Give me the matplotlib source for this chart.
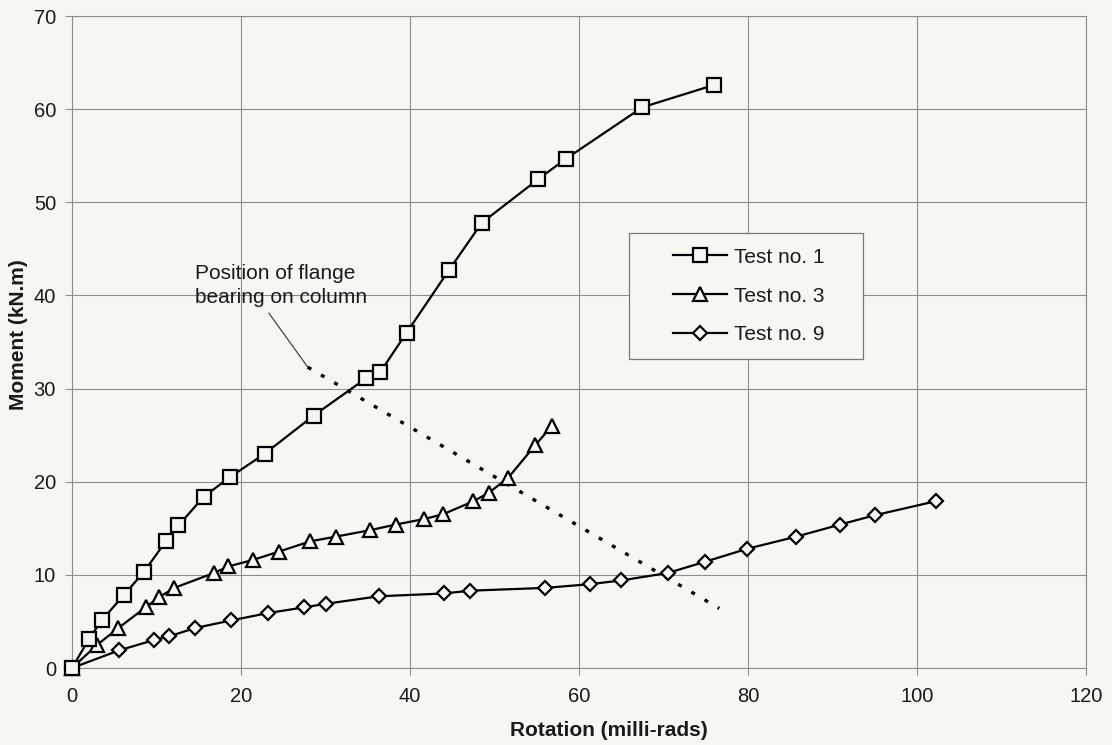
import matplotlib
matplotlib.use("Agg")
import matplotlib.pyplot as plt
from matplotlib import font_manager
from matplotlib.patches import Rectangle
from matplotlib.lines import Line2D

# ---------------- data ----------------
test1_x = [0, 2.0, 3.5, 6.1, 8.5, 11.1, 12.6, 15.6, 18.7, 22.8, 28.6, 34.8, 36.5,
           39.6, 44.6, 48.5, 55.2, 58.5, 67.5, 76.0]
test1_y = [0, 3.1, 5.1, 7.8, 10.3, 13.6, 15.3, 18.4, 20.5, 23.0, 27.1, 31.1, 31.8,
           36.0, 42.7, 47.8, 52.5, 54.7, 60.2, 62.6]

test3_x = [0, 3.0, 5.5, 8.7, 10.3, 12.1, 16.8, 18.5, 21.4, 24.5, 28.2, 31.2, 35.3,
           38.3, 41.7, 43.9, 47.5, 49.3, 51.6, 54.8, 56.8]
test3_y = [0, 2.5, 4.3, 6.5, 7.6, 8.6, 10.2, 10.9, 11.6, 12.5, 13.6, 14.1, 14.8,
           15.4, 16.0, 16.5, 17.9, 18.8, 20.4, 23.9, 26.0]

test9_x = [0, 5.6, 9.7, 11.5, 14.6, 18.8, 23.2, 27.4, 30.1, 36.3, 44.0, 47.1, 56.0,
           61.3, 65.0, 70.5, 74.9, 79.9, 85.7, 90.9, 95.0, 102.2]
test9_y = [0, 1.9, 3.0, 3.4, 4.3, 5.1, 5.9, 6.5, 6.9, 7.7, 8.0, 8.3, 8.6,
           9.0, 9.4, 10.2, 11.4, 12.8, 14.1, 15.4, 16.4, 17.9]

series_labels = ["Test no. 1", "Test no. 3", "Test no. 9"]

flange_x = [27.9, 76.6]
flange_y = [32.3, 6.4]
leader_x = [23.3, 27.9]
leader_y = [38.1, 32.3]

x_ticks = [0, 20, 40, 60, 80, 100, 120]
y_ticks = [0, 10, 20, 30, 40, 50, 60, 70]

annotation_text = "Position of flange\nbearing on column"
x_label = "Rotation (milli-rads)"
y_label = "Moment (kN.m)"

# ---------------- style ----------------
names = {f.name for f in font_manager.fontManager.ttflist}
base_font = "Liberation Sans" if "Liberation Sans" in names else "DejaVu Sans"
narrow_font = "Liberation Sans Narrow" if "Liberation Sans Narrow" in names else None
plt.rcParams["font.family"] = [base_font, "DejaVu Sans"]

bg = "#f7f6f2"
grid_c = "#8e8e8e"

fig = plt.figure(figsize=(11.12, 7.45), dpi=100, facecolor=bg)
ax = fig.add_axes([72 / 1112, 77 / 745, 1014 / 1112, 652 / 745])
ax.set_facecolor(bg)

ax.set_xlim(0, 120)
ax.set_ylim(0, 70)
ax.set_xticks(x_ticks)
ax.set_yticks(y_ticks)
ax.grid(True, color=grid_c, lw=0.8, zorder=0)
ax.set_axisbelow(True)
for s in ax.spines.values():
    s.set_color(grid_c)
    s.set_linewidth(0.8)
ax.tick_params(axis="both", colors=grid_c, labelcolor="#1a1a1a", length=5,
               width=0.8, labelsize=14.5)
ax.tick_params(axis="y", pad=6.5)
ax.tick_params(axis="x", pad=9)

common = dict(color="black", lw=1.6, markerfacecolor=bg, markeredgecolor="black",
              markeredgewidth=1.6, zorder=3, clip_on=False)
ax.plot(test9_x, test9_y, marker="D", ms=7.0, **common)
ax.plot(test3_x, test3_y, marker="^", ms=10.5, **common)
ax.plot(test1_x, test1_y, marker="s", ms=9.5, **common)

# dotted flange position line and leader
ax.plot(flange_x, flange_y, color="black", lw=2.4, linestyle=(0, (1.2, 3.4)), zorder=2)
ax.plot(leader_x, leader_y, color="#333333", lw=0.8, zorder=2)
ax.text(14.6, 43.4, annotation_text, fontsize=15, va="top", ha="left",
        color="#1a1a1a", linespacing=1.32, zorder=4)

# legend box
x0 = (629 - 72) / 1014
y1 = (668 - 233) / 652
w = (863 - 629) / 1014
h = (359 - 233) / 652
ax.add_patch(Rectangle((x0, y1 - h), w, h, transform=ax.transAxes, facecolor=bg,
                       edgecolor="#777777", lw=0.9, zorder=5))
handles = [
    Line2D([], [], marker="s", ms=9.5, color="black", lw=1.6, markerfacecolor=bg,
           markeredgewidth=1.6),
    Line2D([], [], marker="^", ms=10.5, color="black", lw=1.6, markerfacecolor=bg,
           markeredgewidth=1.6),
    Line2D([], [], marker="D", ms=7.0, color="black", lw=1.6, markerfacecolor=bg,
           markeredgewidth=1.6),
]
leg = ax.legend(handles, series_labels, loc="center left",
                bbox_to_anchor=((673 - 72) / 1014, (668 - 296) / 652),
                frameon=False, fontsize=15, handlelength=2.6, handletextpad=0.35,
                labelspacing=0.95, borderpad=0, borderaxespad=0)
leg.set_zorder(6)
for t in leg.get_texts():
    t.set_color("#1a1a1a")

# axis labels
if narrow_font:
    lab_kw = dict(fontsize=16, family=[narrow_font, base_font])
else:
    lab_kw = dict(fontsize=15, family=[base_font, "DejaVu Sans"])
fig.text(609 / 1112, 1 - 731 / 745, x_label, ha="center", va="center",
         fontweight="bold", color="#1a1a1a", **lab_kw)
fig.text(19 / 1112, 1 - 335 / 745, y_label, ha="center", va="center", rotation=90,
         fontweight="bold", color="#1a1a1a", **lab_kw)

fig.savefig("out.png", dpi=100, facecolor=bg)
